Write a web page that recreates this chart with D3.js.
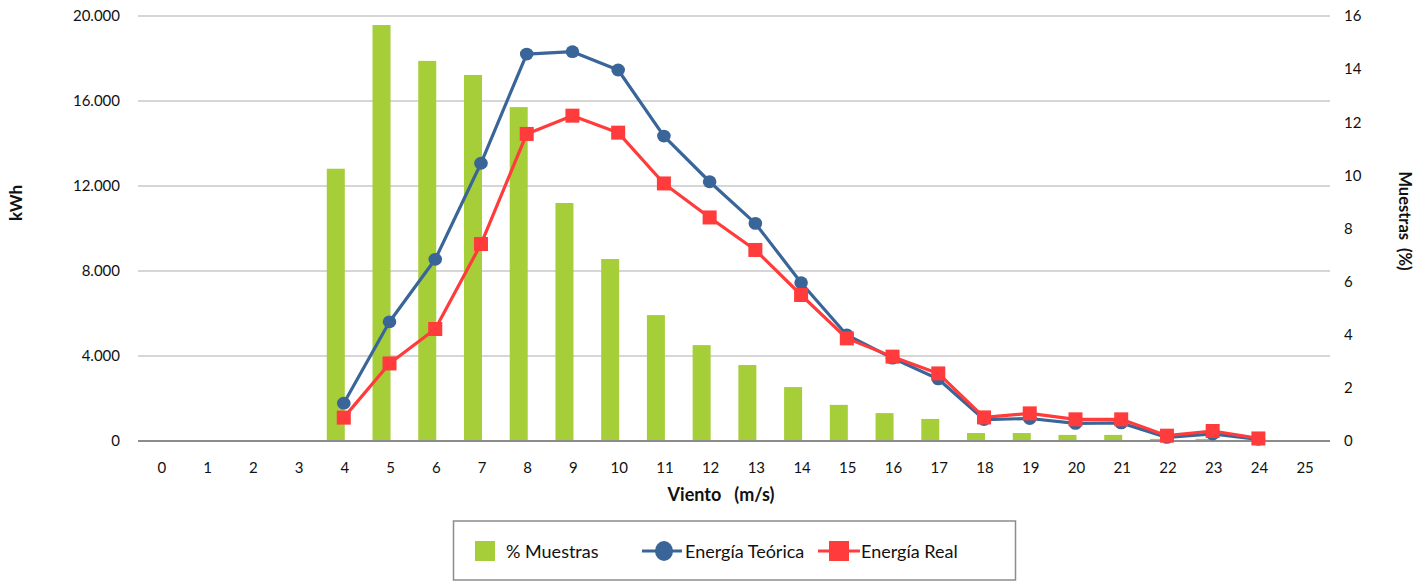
<!DOCTYPE html>
<html><head><meta charset="utf-8">
<script src="https://cdn.jsdelivr.net/npm/d3@7"></script>
<style>
html,body{margin:0;padding:0;background:#fff;}
svg{display:block;font-family:Lato, "Open Sans", sans-serif;}
</style></head>
<body>
<svg id="chart" width="1425" height="582"></svg>
<script>
const categories = d3.range(0, 26).map(String);
const muestras = [0,0,0,0,10.25,15.66,14.31,13.78,12.57,8.96,6.85,4.74,3.61,2.86,2.03,1.36,1.05,0.83,0.30,0.30,0.23,0.23,0.08,0.08,0.02,0];
const teorica = [null,null,null,null,1780,5610,8550,13070,18210,18320,17460,14350,12200,10240,7450,4990,3900,2920,1010,1060,830,850,170,330,80,null];
const real = [null,null,null,null,1100,3650,5270,9270,14450,15310,14510,12120,10520,8990,6870,4830,3970,3180,1110,1300,1020,1020,250,470,120,null];
const leftTicks = [0,4000,8000,12000,16000,20000];
const rightTicks = [0,2,4,6,8,10,12,14,16];

const svg = d3.select("#chart");
const pL = 139, pR = 1328, pT = 16, pB = 441;
const green = "#A6CE39", blue = "#3A6598", red = "#FF3B3B";

const x = d3.scaleBand().domain(categories).range([pL, pR]);
const yL = d3.scaleLinear().domain([0, 20000]).range([pB, pT]);
const yR = d3.scaleLinear().domain([0, 16]).range([pB, pT]);
const fmt = d => d === 0 ? "0" : d3.format(",")(d).replace(/,/g, ".");

// gridlines
svg.append("g").selectAll("line").data(leftTicks.filter(d => d > 0)).join("line")
  .attr("x1", pL - 1).attr("x2", pR + 2)
  .attr("y1", d => yL(d)).attr("y2", d => yL(d))
  .attr("stroke", "#C8C8C8").attr("stroke-width", 1.6);

// left axis labels
svg.append("g").selectAll("text").data(leftTicks).join("text")
  .attr("x", 120).attr("y", d => yL(d)).attr("dy", "0.35em")
  .attr("text-anchor", "end").attr("font-size", 15).attr("fill", "#111")
  .text(fmt);
// right axis labels
svg.append("g").selectAll("text").data(rightTicks).join("text")
  .attr("x", 1344).attr("y", d => yR(d)).attr("dy", "0.35em")
  .attr("text-anchor", "start").attr("font-size", 15).attr("fill", "#111")
  .text(d => d);

// bars
const bw = 18;
svg.append("g").selectAll("rect").data(muestras.map((v, i) => ({c: categories[i], v})).filter(d => d.v > 0)).join("rect")
  .attr("x", d => x(d.c) + x.bandwidth() / 2 - bw)
  .attr("width", bw)
  .attr("y", d => yR(d.v)).attr("height", d => pB - yR(d.v))
  .attr("fill", green);

// baseline
svg.append("line").attr("x1", pL - 1).attr("x2", pR + 2).attr("y1", pB).attr("y2", pB)
  .attr("stroke", "#8C8C8C").attr("stroke-width", 2);

// x labels
svg.append("g").selectAll("text").data(categories).join("text")
  .attr("x", d => x(d) + x.bandwidth() / 2).attr("y", 468).attr("dy", "0.35em")
  .attr("text-anchor", "middle").attr("font-size", 15).attr("fill", "#111")
  .text(d => d);

const cx = i => x(categories[i]) + x.bandwidth() / 2 - 1;
const line = d3.line().defined(d => d.v != null).x(d => cx(d.i)).y(d => yL(d.v));
const tData = teorica.map((v, i) => ({i, v}));
const rData = real.map((v, i) => ({i, v}));

svg.append("path").datum(tData).attr("d", line).attr("fill", "none")
  .attr("stroke", blue).attr("stroke-width", 3.2).attr("stroke-linejoin", "round");
svg.append("g").selectAll("ellipse").data(tData.filter(d => d.v != null)).join("ellipse")
  .attr("cx", d => cx(d.i)).attr("cy", d => yL(d.v)).attr("rx", 6.8).attr("ry", 6.4)
  .attr("fill", blue);

svg.append("path").datum(rData).attr("d", line).attr("fill", "none")
  .attr("stroke", red).attr("stroke-width", 3.2).attr("stroke-linejoin", "round");
svg.append("g").selectAll("rect").data(rData.filter(d => d.v != null)).join("rect")
  .attr("x", d => cx(d.i) - 7).attr("y", d => yL(d.v) - 7).attr("width", 14).attr("height", 14)
  .attr("fill", red);

// axis titles
svg.append("text").attr("transform", "translate(16,203) rotate(-90)").attr("dy", "0.35em")
  .attr("text-anchor", "middle").attr("font-size", 17).attr("font-weight", "bold").attr("fill", "#111")
  .text("kWh");
svg.append("text").attr("transform", "translate(1405,221) rotate(90)").attr("dy", "0.35em")
  .attr("text-anchor", "middle").attr("font-size", 16.5).attr("font-weight", "bold").attr("fill", "#111")
  .attr("xml:space", "preserve").text("Muestras  (%)");
svg.append("text").attr("x", 721).attr("y", 495).attr("dy", "0.35em")
  .attr("text-anchor", "middle").attr("font-size", 18).attr("font-weight", "bold").attr("fill", "#111")
  .attr("xml:space", "preserve").text("Viento   (m/s)");

// legend
const lg = svg.append("g");
lg.append("rect").attr("x", 453.5).attr("y", 521).attr("width", 562).attr("height", 59)
  .attr("fill", "#fff").attr("stroke", "#8C8C8C").attr("stroke-width", 1.5);
const ly = 551;
lg.append("rect").attr("x", 475).attr("y", ly - 10).attr("width", 20).attr("height", 20).attr("fill", green);
lg.append("text").attr("x", 506).attr("y", ly + 1).attr("dy", "0.35em").attr("font-size", 18).attr("fill", "#111").text("% Muestras");
lg.append("line").attr("x1", 642).attr("x2", 682).attr("y1", ly).attr("y2", ly).attr("stroke", blue).attr("stroke-width", 3.2);
lg.append("ellipse").attr("cx", 664).attr("cy", ly).attr("rx", 9).attr("ry", 10).attr("fill", blue);
lg.append("text").attr("x", 685).attr("y", ly + 1).attr("dy", "0.35em").attr("font-size", 18).attr("fill", "#111").text("Energía Teórica");
lg.append("line").attr("x1", 818).attr("x2", 860).attr("y1", ly).attr("y2", ly).attr("stroke", red).attr("stroke-width", 3.2);
lg.append("rect").attr("x", 829).attr("y", ly - 10).attr("width", 20).attr("height", 20).attr("fill", red);
lg.append("text").attr("x", 861).attr("y", ly + 1).attr("dy", "0.35em").attr("font-size", 18).attr("fill", "#111").text("Energía Real");
</script>
</body></html>
